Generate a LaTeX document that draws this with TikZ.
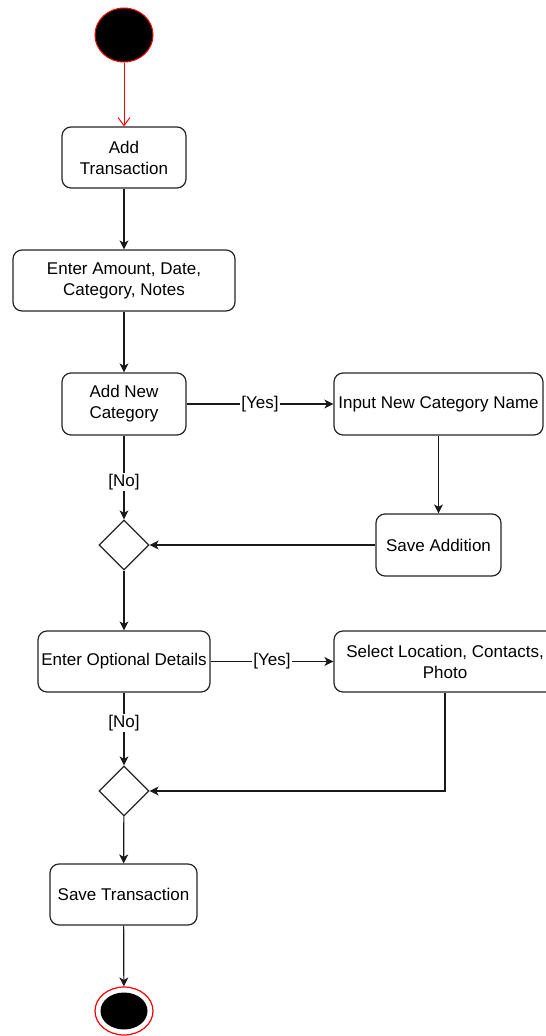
\documentclass[tikz,border=0pt]{standalone}
\usepackage{fontspec}
\setmainfont{Liberation Sans}
\usetikzlibrary{arrows.meta,shapes.geometric}
\begin{document}
\begin{tikzpicture}[x=1pt,y=-1pt,
  act/.style={draw=black!85, line width=1.2pt, rounded corners=9pt,
    minimum height=61pt, align=center, inner sep=0pt,
    font=\fontsize{17}{21}\selectfont},
  flow/.style={draw=black!90, line width=1.2pt,
    -{Stealth[length=9pt,width=9pt,inset=2.5pt]}},
  merge/.style={draw=black!85, diamond, line width=1.2pt, aspect=1,
    minimum width=50pt, minimum height=50pt, inner sep=0pt},
  guard/.style={fill=white, inner sep=1pt, font=\fontsize{17}{21}\selectfont}
]
\clip (0,0) rectangle (546,1036);
\fill[white] (0,0) rectangle (546,1036);

% initial and final states
\node[ellipse, draw=red, fill=black, line width=1pt, inner sep=0pt,
      minimum width=58pt, minimum height=54pt] (start) at (124,35) {};
\node[ellipse, draw=red, fill=white, line width=1.2pt, inner sep=0pt,
      minimum width=58pt, minimum height=48pt] (finish) at (124,1011) {};
\node[ellipse, fill=black, inner sep=0pt,
      minimum width=47pt, minimum height=37pt] (finishcore) at (124,1011) {};

% activities
\node[act, minimum width=124pt] (addtx) at (124,157.5) {Add\\Transaction};
\node[act, minimum width=222pt] (enter) at (124,280.5) {Enter Amount, Date,\\Category, Notes};
\node[act, minimum width=124pt, minimum height=62pt] (anc) at (124,404) {Add New\\Category};
\node[act, minimum width=209pt, minimum height=62pt] (incn) at (438.5,404) {Input New Category Name};
\node[act, minimum width=125pt, minimum height=62pt] (saveadd) at (438.5,545) {Save Addition};
\node[merge] (m1) at (124,545) {};
\node[act, minimum width=172pt] (eod) at (124,661.5) {Enter Optional Details};
\node[act, minimum width=222pt] (sel) at (445,661.5) {Select Location, Contacts,\\Photo};
\node[merge] (m2) at (124,791) {};
\node[act, minimum width=147pt] (savetx) at (123.5,894.5) {Save Transaction};

% transitions
\draw[red, line width=1pt, -{Straight Barb[length=8pt,width=12pt]}] (start) -- (addtx);
\draw[flow] (addtx) -- (enter);
\draw[flow] (enter) -- (anc);
\draw[flow] (anc) -- node[guard] {[Yes]} (incn);
\draw[flow] (incn.south -| saveadd.north) -- (saveadd);
\draw[flow] (saveadd) -- (m1);
\draw[flow] (anc) -- node[guard, pos=0.55] {[No]} (m1);
\draw[flow] (m1) -- (eod);
\draw[flow] (eod) -- node[guard] {[Yes]} (sel);
\draw[flow] (sel.south) |- (m2);
\draw[flow] (eod) -- node[guard, pos=0.42] {[No]} (m2);
\draw[flow] (m2) -- (savetx);
\draw[flow] (savetx) -- (finish);
\end{tikzpicture}
\end{document}
